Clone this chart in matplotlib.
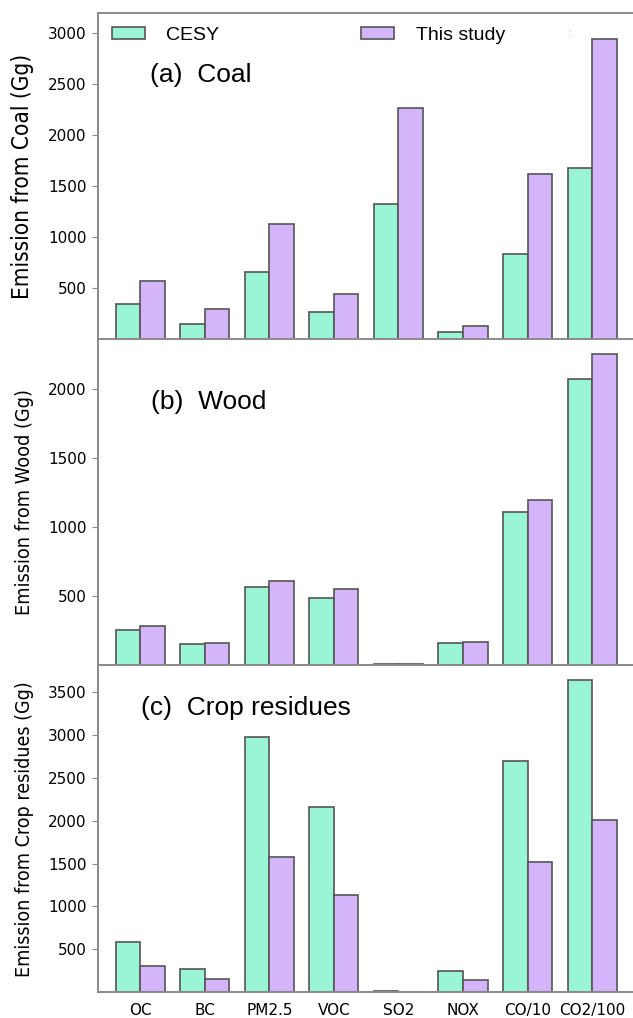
import numpy as np
import matplotlib.pyplot as plt
from matplotlib import font_manager as fm

species = ['OC', 'BC', 'PM2.5', 'VOC', 'SO2', 'NOX', 'CO/10', 'CO2/100']

coal_cesy = [343, 154, 659, 271, 1324, 75, 838, 1673]
coal_this = [574, 297, 1128, 441, 2266, 134, 1620, 2938]

wood_cesy = [256, 153, 569, 488, 8, 162, 1112, 2075]
wood_this = [285, 160, 608, 553, 8, 171, 1199, 2251]

crop_cesy = [586, 271, 2971, 2162, 15, 251, 2695, 3636]
crop_this = [309, 150, 1582, 1138, 8, 146, 1516, 2010]

c_cesy = '#9af5d6'
c_this = '#d4b5fc'
edge = '#555555'
spine_c = '#8a8a8a'

# narrow y labels if a condensed DejaVu face is around
has_cond = any(f.name == 'DejaVu Sans' and str(f.stretch) in ('condensed', '300')
               for f in fm.fontManager.ttflist)
cond_k = 0.9 if has_cond else 1.0

W, H = 633, 1018
fig = plt.figure(figsize=(W / 100, H / 100), dpi=100)

left = 97.7 / W
width = (634.7 - 97.7) / W
# (top px, bottom px) of each panel
boxes = [(12.5, 339.5), (339.5, 665.4), (665.4, 992.2)]

panels = [
    (coal_cesy, coal_this, 3197, [500, 1000, 1500, 2000, 2500, 3000],
     'Emission from Coal (Gg)', 14.6, '(a)  Coal'),
    (wood_cesy, wood_this, 2358, [500, 1000, 1500, 2000],
     'Emission from Wood (Gg)', 12.8, '(b)  Wood'),
    (crop_cesy, crop_this, 3811, [500, 1000, 1500, 2000, 2500, 3000, 3500],
     'Emission from Crop residues (Gg)', 12.6, '(c)  Crop residues'),
]
# pixel position of each panel tag (left x, centre y)
tag_pos = [(150, 75), (151, 401.7), (141, 708)]

x = np.arange(len(species))
bw = 0.38
axes = []
for (top, bot), (cesy, this, ymax, yt, ylab, ylsize, tag), (tx, ty) in zip(boxes, panels, tag_pos):
    ax = fig.add_axes([left, 1 - bot / H, width, (bot - top) / H])
    ax.bar(x - bw / 2, cesy, bw, color=c_cesy, edgecolor=edge, linewidth=1.2,
           label='CESY')
    ax.bar(x + bw / 2, this, bw, color=c_this, edgecolor=edge, linewidth=1.2,
           label='This study')
    ax.set_xlim(-0.66, 7.66)
    ax.set_ylim(0, ymax)
    ax.set_yticks(yt)
    ax.set_xticks(x)
    ax.set_xticklabels([])
    ax.tick_params(axis='y', labelsize=11, length=4, color=spine_c, pad=4)
    ax.tick_params(axis='x', length=0, labelsize=11, pad=8)
    if has_cond:
        ax.set_ylabel(ylab, fontsize=ylsize / cond_k, fontstretch='condensed')
    else:
        ax.set_ylabel(ylab, fontsize=ylsize)
    ax.yaxis.set_label_coords((34 - 97.7) / 537, 0.5)
    for s in ['left', 'bottom', 'top']:
        ax.spines[s].set_color(spine_c)
        ax.spines[s].set_linewidth(1.4)
    ax.spines['right'].set_visible(False)
    ax.text((tx - 97.7) / (634.7 - 97.7), (bot - ty) / (bot - top), tag,
            transform=ax.transAxes, fontsize=19, family='Liberation Sans',
            va='center', ha='left')
    axes.append((ax, top, bot))

ax_c = axes[2][0]
ax_c.set_xticklabels(species)

ax_a, top_a, bot_a = axes[0]
ax_a.legend(loc='upper left', frameon=False, ncol=2,
            bbox_to_anchor=((112 - 97.7) / 537, 1 - 14 / (bot_a - top_a)),
            borderaxespad=0, borderpad=0, handlelength=1.7, handleheight=0.6,
            handletextpad=1.1, columnspacing=7.3,
            prop={'family': 'Liberation Sans', 'size': 14})
ax_a.text((570 - 97.7) / 537, (bot_a - 33) / (bot_a - top_a), ':',
          transform=ax_a.transAxes, fontsize=6, color='#999999',
          ha='center', va='center')

fig.savefig('out.png', dpi=100)
